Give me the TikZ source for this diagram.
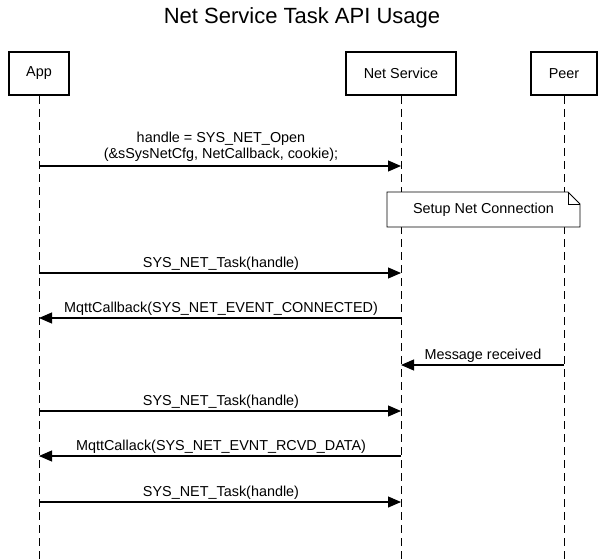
\documentclass[tikz,border=0pt]{standalone}
\usepackage{fontspec}
\setmainfont{Liberation Sans}
\usetikzlibrary{arrows.meta}
\tikzset{
  actor/.style={draw, line width=2pt, minimum height=43pt, inner sep=0pt, font=\fontsize{14.4}{16}\selectfont},
  life/.style={line width=1pt, dash pattern=on 8pt off 5pt},
  msg/.style={line width=1.1pt, -{Triangle[length=13pt,width=11pt]}},
  lbl/.style={font=\fontsize{14.4}{16}\selectfont, inner sep=0pt, align=center}
}
\begin{document}
\begin{tikzpicture}[x=1pt,y=-1pt]
\useasboundingbox (0,0) rectangle (605,559);
% title
\node[font=\fontsize{22}{24}\selectfont] (title) at (302,18) {Net Service Task API Usage};
% actors
\node[actor, minimum width=60pt] (app) at (39,73.5) {App};
\node[actor, minimum width=110pt] (ns) at (401,73.5) {Net Service};
\node[actor, minimum width=66pt] (peer) at (564,73.5) {Peer};
% lifeline ends
\coordinate (appEnd) at (39,559);
\coordinate (nsEnd) at (401,559);
\coordinate (peerEnd) at (564,559);
\draw[life] (app.south) -- (appEnd);
\draw[life] (ns.south) -- (nsEnd);
\draw[life] (peer.south) -- (peerEnd);
% note
\coordinate (nA) at (387,192);
\coordinate (nB) at (568,192);
\coordinate (nC) at (580,204);
\coordinate (nD) at (580,227);
\coordinate (nE) at (387,227);
\filldraw[fill=white, draw=black, line width=0.8pt] (nA) -- (nB) -- (nC) -- (nD) -- (nE) -- cycle;
\draw[line width=0.8pt] (nB) -- (568,204) -- (nC);
\node[lbl] (note) at (483.5,210) {Setup Net Connection};
% message points
\coordinate (a1) at (39,166);  \coordinate (n1) at (401,166);
\coordinate (a2) at (39,273);  \coordinate (n2) at (401,273);
\coordinate (a3) at (39,318);  \coordinate (n3) at (401,318);
\coordinate (n4) at (401,365); \coordinate (p4) at (564,365);
\coordinate (a5) at (39,411);  \coordinate (n5) at (401,411);
\coordinate (a6) at (39,456);  \coordinate (n6) at (401,456);
\coordinate (a7) at (39,502);  \coordinate (n7) at (401,502);
% messages
\draw[msg] (a1) -- (n1);
\node[lbl] (l1a) at (221,138.5) {handle = SYS\_NET\_Open};
\node[lbl] (l1b) at (221,154.5) {(\&sSysNetCfg, NetCallback, cookie);};
\draw[msg] (a2) -- (n2);
\node[lbl] (l2) at (221,263.5) {SYS\_NET\_Task(handle)};
\draw[msg] (n3) -- (a3);
\node[lbl] (l3) at (221,308.5) {MqttCallback(SYS\_NET\_EVENT\_CONNECTED)};
\draw[msg] (p4) -- (n4);
\node[lbl] (l4) at (483,355.5) {Message received};
\draw[msg] (a5) -- (n5);
\node[lbl] (l5) at (221,401.5) {SYS\_NET\_Task(handle)};
\draw[msg] (n6) -- (a6);
\node[lbl] (l6) at (221,446.5) {MqttCallack(SYS\_NET\_EVNT\_RCVD\_DATA)};
\draw[msg] (a7) -- (n7);
\node[lbl] (l7) at (221,492.5) {SYS\_NET\_Task(handle)};
\end{tikzpicture}
\end{document}
